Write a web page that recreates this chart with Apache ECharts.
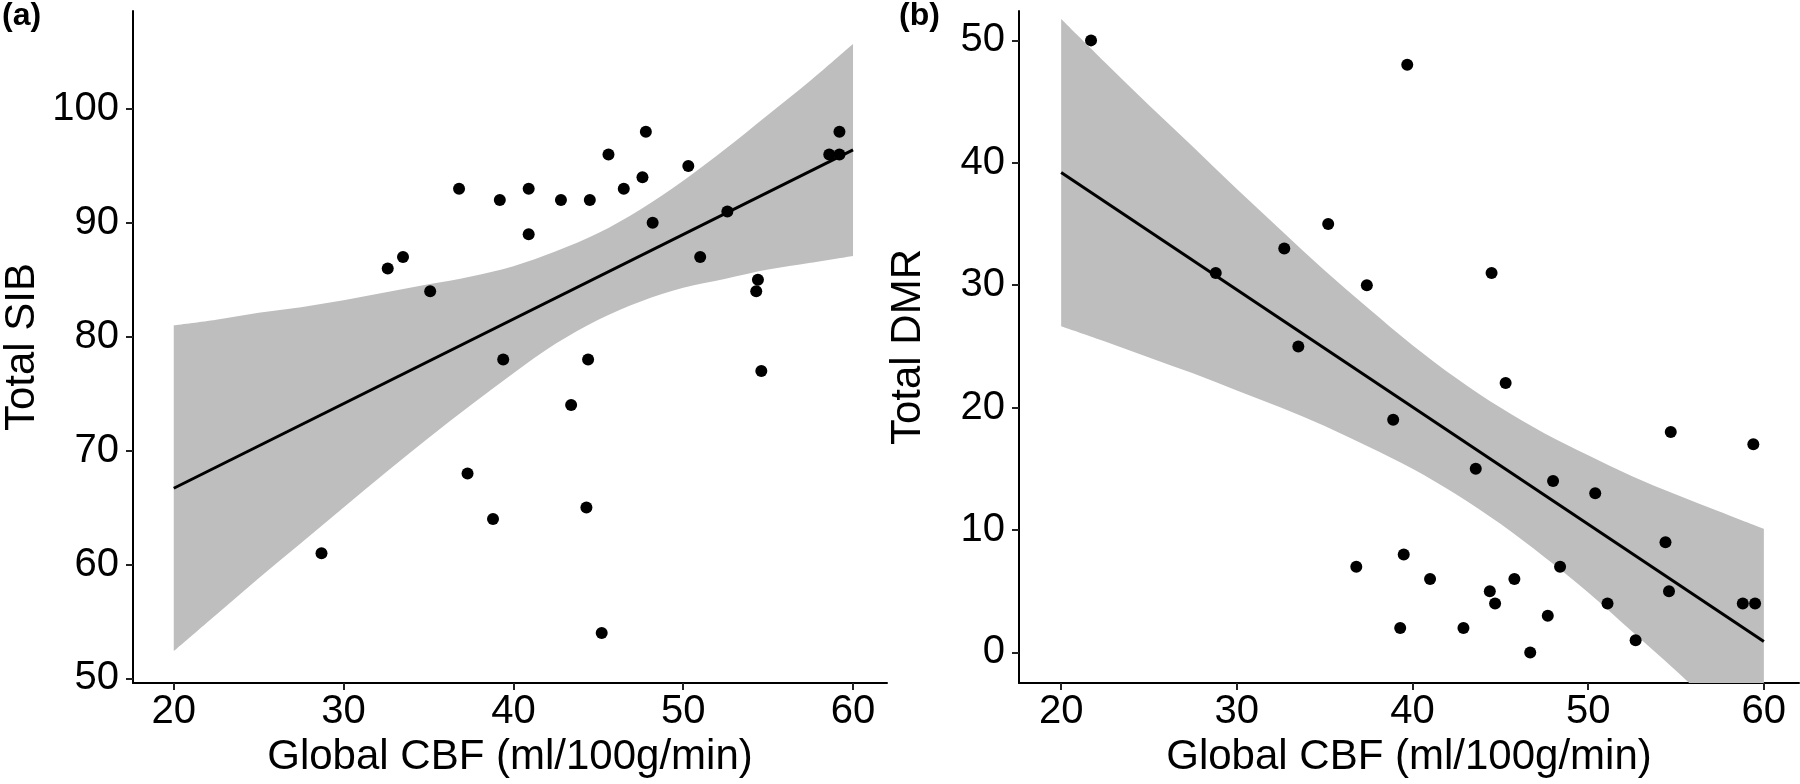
<!DOCTYPE html>
<html>
<head>
<meta charset="utf-8">
<script src="https://cdn.jsdelivr.net/npm/echarts@6/dist/echarts.min.js"></script>
<style>
html,body{margin:0;padding:0;background:#fff;}
#chart{width:1800px;height:784px;}
</style>
</head>
<body>
<div id="chart"></div>
<script>
// ---- data ----
const xTicks = [20, 30, 40, 50, 60];
const sibTicks = [50, 60, 70, 80, 90, 100];
const dmrTicks = [0, 10, 20, 30, 40, 50];

// Panel (a): Global CBF vs Total SIB
const cbfA = [28.7, 32.6, 33.5, 35.1, 36.8, 37.3, 38.8, 39.2, 39.4, 40.9, 40.9, 42.8, 43.4, 44.3, 44.4, 44.5, 45.2, 45.6, 46.5, 47.6, 47.8, 48.2, 50.3, 51.0, 52.6, 54.3, 54.4, 54.6, 58.6, 59.2, 59.2];
const sib  = [61,   86,   87,   84,   93,   68,   64,   92,   78,   93,   89,   92,   74,   65,   78,   92,   54,   96,   93,   94,   98,   90,   95,   87,   91,   84,   85,   77,   96,   96,   98];

// Panel (b): Global CBF vs Total DMR
const cbfB = [21.7, 28.8, 32.7, 33.5, 35.2, 36.8, 37.4, 38.9, 39.3, 39.5, 39.7, 41.0, 42.9, 43.6, 44.4, 44.5, 44.7, 45.3, 45.8, 46.7, 47.7, 48.0, 48.4, 50.4, 51.1, 52.7, 54.4, 54.6, 54.7, 58.8, 59.4, 59.5];
const dmr  = [50,   31,   33,   25,   35,   7,    30,   19,   2,    8,    48,   6,    2,    15,   5,    31,   4,    22,   6,    0,    3,    14,   7,    13,   4,    1,    9,    5,    18,   4,    17,   4];

// Fitted lines (end points)
const fitX = [20, 60];
const sibFit = [66.7, 96.4];
const dmrFit = [39.2, 0.9];

// Confidence bands
const bandX    = [20,   22.5, 25,   27.5, 30,   32.5, 35,   37.5, 40,   42.5, 45,   47.5, 50,   52.5, 55,   57.5, 60];
const sibUpper = [81.0, 81.5, 82.1, 82.6, 83.2, 83.9, 84.6, 85.3, 86.2, 87.5, 89.1, 91.2, 93.7, 96.5, 99.5, 102.5, 105.7];
const sibLower = [52.4, 55.6, 58.8, 61.9, 65.0, 68.1, 71.1, 74.0, 76.8, 79.4, 81.5, 83.1, 84.3, 85.1, 85.9, 86.5, 87.1];
const dmrUpper = [51.75, 48.2, 44.7, 41.3, 37.85, 34.5, 31.2, 28.1, 25.1, 22.4, 20.0, 17.9, 16.1, 14.4, 12.9, 11.5, 10.1];
const dmrLower = [26.65, 25.4, 24.1, 22.8, 21.4, 20.0, 18.5, 16.8, 15.0, 12.9, 10.5, 7.8, 4.9, 1.7, -1.5, -4.9, -8.3];

// ---- chart ----
const FONT = 'Liberation Sans, Arial, Helvetica, sans-serif';
const zip = (a, b) => a.map((v, i) => [v, b[i]]);

function xAxis(gridIndex) {
  return {
    type: 'value', gridIndex, min: 17.6, max: 62,
    name: 'Global CBF (ml/100g/min)', nameLocation: 'middle', nameGap: 52,
    nameTextStyle: { fontFamily: FONT, fontSize: 42, color: '#000' },
    axisLine: { show: true, onZero: false, lineStyle: { color: '#000', width: 2 } },
    axisTick: { show: true, length: 7, lineStyle: { color: '#222', width: 2 }, customValues: xTicks },
    axisLabel: { fontFamily: FONT, fontSize: 40, color: '#000', margin: 9, customValues: xTicks },
    splitLine: { show: false }
  };
}
function yAxis(gridIndex, min, max, ticks, name) {
  return {
    type: 'value', gridIndex, min, max,
    name, nameLocation: 'middle', nameGap: 90, nameRotate: 90,
    nameTextStyle: { fontFamily: FONT, fontSize: 42, color: '#000' },
    axisLine: { show: true, onZero: false, lineStyle: { color: '#000', width: 2 } },
    axisTick: { show: true, length: 7, lineStyle: { color: '#222', width: 2 }, customValues: ticks },
    axisLabel: { fontFamily: FONT, fontSize: 40, color: '#000', margin: 14, customValues: ticks },
    splitLine: { show: false }
  };
}
// Catmull-Rom smoothed path through pixel points (continuing an open path)
function smoothSegs(p) {
  let d = '';
  for (let i = 0; i < p.length - 1; i++) {
    const p0 = p[Math.max(i - 1, 0)], p1 = p[i], p2 = p[i + 1], p3 = p[Math.min(i + 2, p.length - 1)];
    const c1 = [p1[0] + (p2[0] - p0[0]) / 6, p1[1] + (p2[1] - p0[1]) / 6];
    const c2 = [p2[0] - (p3[0] - p1[0]) / 6, p2[1] - (p3[1] - p1[1]) / 6];
    d += ' C' + c1[0] + ' ' + c1[1] + ' ' + c2[0] + ' ' + c2[1] + ' ' + p2[0] + ' ' + p2[1];
  }
  return d;
}
function band(idx, upper, lower) {
  return {
    type: 'custom', xAxisIndex: idx, yAxisIndex: idx, clip: true, silent: true, z: 1,
    data: bandX.map((x, i) => [x, upper[i], lower[i]]),
    encode: { x: 0, y: [1, 2] },
    renderItem: function (params, api) {
      if (params.dataIndex !== 0) return;
      const up = bandX.map((x, i) => api.coord([x, upper[i]]));
      const lo = bandX.map((x, i) => api.coord([x, lower[i]])).reverse();
      let d = 'M' + up[0][0] + ' ' + up[0][1] + smoothSegs(up);
      d += ' L' + lo[0][0] + ' ' + lo[0][1] + smoothSegs(lo) + ' Z';
      return { type: 'path', shape: { pathData: d }, style: { fill: '#bebebe', stroke: null } };
    }
  };
}
function fitLine(idx, ys) {
  return { type: 'line', xAxisIndex: idx, yAxisIndex: idx, data: zip(fitX, ys), symbol: 'none',
    lineStyle: { color: '#000', width: 3 }, z: 2, silent: true };
}
function points(idx, xs, ys) {
  return { type: 'scatter', xAxisIndex: idx, yAxisIndex: idx, data: zip(xs, ys), symbolSize: 12,
    itemStyle: { color: '#000', opacity: 1 }, z: 3 };
}

const chart = echarts.init(document.getElementById('chart'), null, { renderer: 'canvas' });
chart.setOption({
  animation: false,
  backgroundColor: '#fff',
  grid: [
    { left: 132, top: 11, width: 755, height: 672 },
    { left: 1019, top: 11, width: 780, height: 672 }
  ],
  xAxis: [xAxis(0), xAxis(1)],
  yAxis: [
    yAxis(0, 49.6, 108.6, sibTicks, 'Total SIB'),
    yAxis(1, -2.5, 52.4, dmrTicks, 'Total DMR')
  ],
  graphic: [
    { type: 'text', left: 2, top: 0, style: { text: '(a)', font: 'bold 32px ' + FONT, fill: '#000' } },
    { type: 'text', left: 899, top: 0, style: { text: '(b)', font: 'bold 32px ' + FONT, fill: '#000' } }
  ],
  series: [
    band(0, sibUpper, sibLower),
    fitLine(0, sibFit),
    points(0, cbfA, sib),
    band(1, dmrUpper, dmrLower),
    fitLine(1, dmrFit),
    points(1, cbfB, dmr)
  ]
});
</script>
</body>
</html>
